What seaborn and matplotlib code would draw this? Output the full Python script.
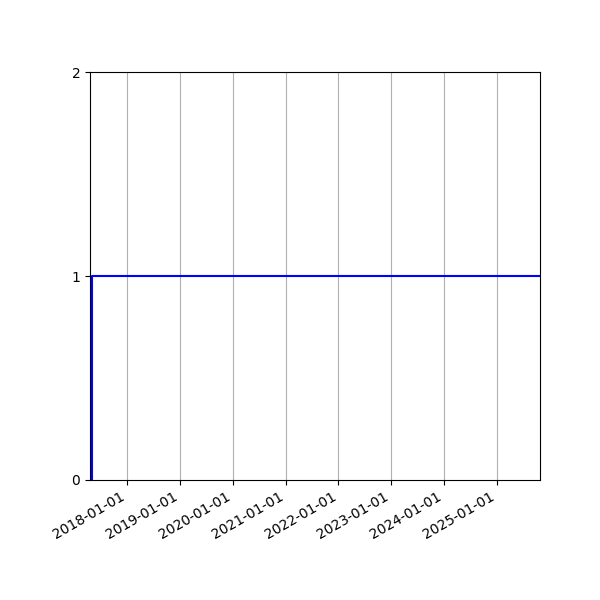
import matplotlib
matplotlib.use("Agg")
import matplotlib.pyplot as plt
import matplotlib.dates as mdates
import pandas as pd
import seaborn as sns

# step series: count goes from 0 to 1 shortly after the start and stays there
dates = pd.to_datetime(["2017-04-20", "2017-05-03", "2025-10-25"])
counts = [0, 1, 1]

df = pd.DataFrame({"date": dates, "count": counts})

fig, ax = plt.subplots(figsize=(6, 6), dpi=100)
sns.lineplot(data=df, x="date", y="count", ax=ax, color="blue",
             linewidth=1.5, drawstyle="steps-post")

ax.set_xlim(dates[0], dates[-1])
ax.set_ylim(0, 2)
ax.set_yticks([0, 1, 2])
ax.xaxis.set_major_locator(mdates.YearLocator())
ax.xaxis.set_major_formatter(mdates.DateFormatter("%Y-%m-%d"))
ax.grid(axis="x", color="#b0b0b0", linewidth=0.8)
ax.set_xlabel("")
ax.set_ylabel("")

fig.autofmt_xdate()
fig.subplots_adjust(left=0.15, right=0.9, top=0.88, bottom=0.2)
plt.savefig("out.png", dpi=100)
